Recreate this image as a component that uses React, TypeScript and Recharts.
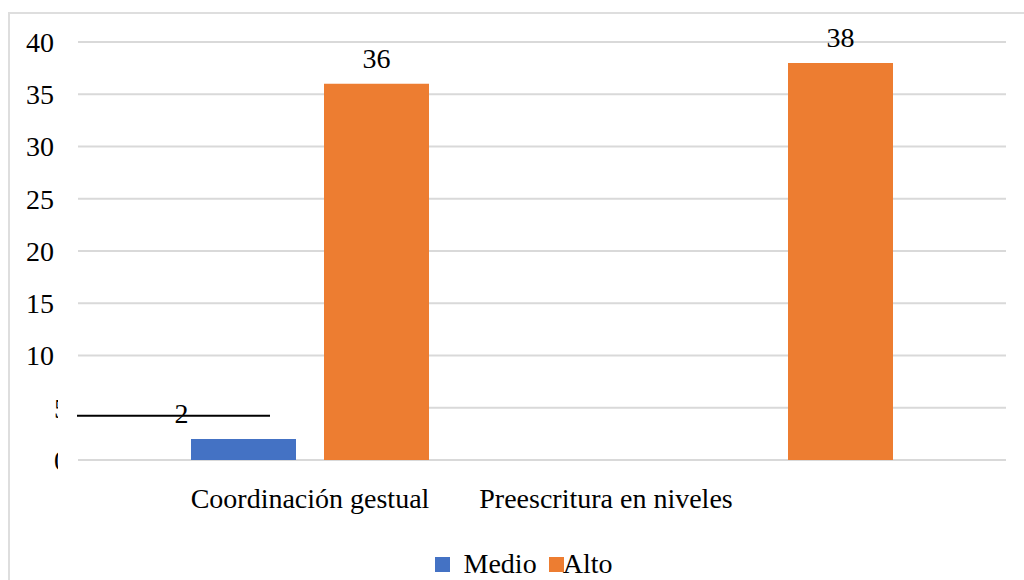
import { BarChart, Bar, XAxis, YAxis, CartesianGrid, Legend, LabelList } from "recharts";

const categories = ["Coordinación gestual", "Preescritura en niveles"];
const seriesNames = ["Medio", "Alto"];
const medio = [2, 0];
const alto = [36, 38];
const yTicks = [0, 5, 10, 15, 20, 25, 30, 35, 40];

const data = categories.map((name, i) => ({ name, Medio: medio[i], Alto: alto[i] }));

const FONT = "Liberation Serif, Tinos, DejaVu Serif, serif";
const BLUE = "#4472C4";
const ORANGE = "#ED7D31";
const GRID = "#d9d9d9";

// the second category label sits well left of its bars in the original
const xLabelShift = [0, -168];

function XTick(props: any) {
  const { x, y, payload, index } = props;
  return (
    <text x={x + (xLabelShift[index] || 0)} y={y} dy="0.71em" textAnchor="middle" style={{ fontFamily: FONT }} fontSize={28} fill="#000">
      {payload.value}
    </text>
  );
}

function YTick(props: any) {
  const { x, y, payload } = props;
  const v = payload.value;
  if (v === 0 || v === 5) {
    // these two labels are mostly covered in the reference
    return (
      <g>
        <clipPath id={`yclip-${v}`}>
          <rect x={x} y={y - 20} width={4} height={40} />
        </clipPath>
        <text x={x} y={y} dy="0.355em" textAnchor="start" style={{ fontFamily: FONT }} fontSize={28} fill="#000" clipPath={`url(#yclip-${v})`}>
          {v}
        </text>
      </g>
    );
  }
  return (
    <text x={x} y={y} dy="0.355em" textAnchor="end" style={{ fontFamily: FONT }} fontSize={28} fill="#000">
      {v}
    </text>
  );
}

function gridLine(props: any) {
  const { x1, x2, y1, index } = props;
  if (index === 1) {
    return (
      <g key={props.key}>
        <line x1={324} x2={x2} y1={y1} y2={y1} stroke={GRID} strokeWidth={2} />
        <line x1={x1 - 1} x2={270} y1={y1 + 8} y2={y1 + 8} stroke="#000" strokeWidth={2} />
      </g>
    );
  }
  return <line key={props.key} x1={x1} x2={x2} y1={y1} y2={y1} stroke={GRID} strokeWidth={2} />;
}

const makeLabel = (dx: number) => (props: any) => {
  const { x, y, width, value } = props;
  if (!value) return null;
  return (
    <text x={x + width / 2 + dx} y={y - 16} textAnchor="middle" style={{ fontFamily: FONT }} fontSize={28} fill="#000">
      {value}
    </text>
  );
};

function LegendContent(props: any) {
  const items = [...(props.payload || [])].sort(
    (a: any, b: any) => seriesNames.indexOf(a.value) - seriesNames.indexOf(b.value)
  );
  return (
    <div style={{ display: "flex", justifyContent: "center", alignItems: "center", height: 32, fontFamily: FONT, fontSize: 28, color: "#000" }}>
      {items.map((it: any, i: number) => (
        <div key={it.value} style={{ display: "flex", alignItems: "center", marginLeft: i ? 12 : 0 }}>
          <span style={{ width: 15, height: 15, background: it.color, marginRight: i ? -1 : 14, display: "inline-block" }} />
          <span>{it.value}</span>
        </div>
      ))}
    </div>
  );
}

export default function App() {
  return (
    <div style={{ position: "fixed", left: 0, top: 0, width: 1024, height: 580, overflow: "hidden", background: "#fff" }}>
      <div style={{ position: "absolute", left: 8, top: 12, width: 1100, height: 700, border: "2px solid #dedede" }} />
      <div style={{ position: "absolute", left: 0, top: 0 }}>
        <BarChart width={1024} height={580} data={data} margin={{ top: 42, right: 18, bottom: 90, left: 0 }} barSize={105} barGap={28}>
          <CartesianGrid vertical={false} horizontal={gridLine} />
          <XAxis dataKey="name" axisLine={false} tickLine={false} tickSize={0} tickMargin={28} height={30} tick={<XTick />} interval={0} />
          <YAxis domain={[0, 40]} ticks={yTicks} axisLine={false} tickLine={false} tickSize={0} tickMargin={24} width={78} tick={<YTick />} interval={0} />
          <Legend verticalAlign="middle" align="center" layout="horizontal" wrapperStyle={{ top: 548, left: 0, width: 1047 }} content={<LegendContent />} />
          <Bar dataKey="Medio" fill={BLUE} isAnimationActive={false}>
            <LabelList dataKey="Medio" content={makeLabel(-62)} />
          </Bar>
          <Bar dataKey="Alto" fill={ORANGE} isAnimationActive={false}>
            <LabelList dataKey="Alto" content={makeLabel(0)} />
          </Bar>
        </BarChart>
      </div>
    </div>
  );
}
